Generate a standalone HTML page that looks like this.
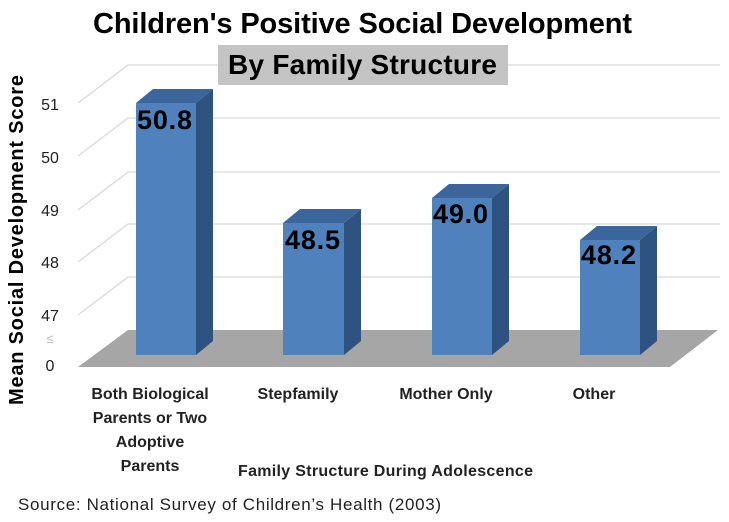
<!DOCTYPE html>
<html><head><style>
body{margin:0;background:#fff;}
svg text{font-family:"Liberation Sans",sans-serif;}
</style></head><body>
<svg width="729" height="517" viewBox="0 0 729 517" xmlns="http://www.w3.org/2000/svg">
<rect width="729" height="517" fill="#fff"/>
<g stroke="#d9d9d9" stroke-width="1.3" fill="none">
<polyline points="78,103 128,65 720,65"/>
<polyline points="78,156 128,118 720,118"/>
<polyline points="78,210 128,172 720,172"/>
<polyline points="78,262 128,224 720,224"/>
<polyline points="78,315 128,277 720,277"/>
</g>
<polygon points="128,330 718,330 670,367 78,367" fill="#a6a6a6"/>
<g font-size="16" fill="#222" text-anchor="middle">
<text x="50" y="110">51</text><text x="50" y="163">50</text><text x="50" y="216">49</text><text x="50" y="268">48</text><text x="50" y="321">47</text><text x="50" y="371">0</text>
</g>
<text x="50" y="343" font-size="13" fill="#bbb" text-anchor="middle">≤</text>
<g>
<polygon points="136,103 153,89 213,89 196,103" fill="#3c669b"/><polygon points="196,103 213,89 213,341 196,355" fill="#2f5380"/><rect x="136" y="103" width="60" height="252" fill="#4f81bd"/>
<polygon points="283,223 300,209 361,209 344,223" fill="#3c669b"/><polygon points="344,223 361,209 361,341 344,355" fill="#2f5380"/><rect x="283" y="223" width="61" height="132" fill="#4f81bd"/>
<polygon points="432,198 449,184 509,184 492,198" fill="#3c669b"/><polygon points="492,198 509,184 509,341 492,355" fill="#2f5380"/><rect x="432" y="198" width="60" height="157" fill="#4f81bd"/>
<polygon points="580,240 597,226 657,226 640,240" fill="#3c669b"/><polygon points="640,240 657,226 657,341 640,355" fill="#2f5380"/><rect x="580" y="240" width="60" height="115" fill="#4f81bd"/>
</g>
<g font-size="27" font-weight="bold" fill="#000">
<text x="137" y="129" textLength="55">50.8</text><text x="285" y="249" textLength="55">48.5</text><text x="433" y="223" textLength="55">49.0</text><text x="581" y="264" textLength="55">48.2</text>
</g>
<text x="93" y="33" font-size="29" font-weight="bold" fill="#000" textLength="539">Children's Positive Social Development</text>
<rect x="218" y="45" width="290" height="40" fill="#c4c4c4"/>
<text x="228" y="74" font-size="28" font-weight="bold" fill="#000" textLength="269">By Family Structure</text>
<text transform="translate(23,405) rotate(-90)" font-size="20" font-weight="bold" fill="#000" textLength="330">Mean Social Development Score</text>
<g font-size="16" font-weight="bold" fill="#222" text-anchor="middle">
<text x="150" y="399">Both Biological</text><text x="150" y="423">Parents or Two</text><text x="150" y="447">Adoptive</text><text x="150" y="471">Parents</text>
<text x="298" y="399">Stepfamily</text><text x="446" y="399">Mother Only</text><text x="594" y="399">Other</text>
</g>
<text x="238" y="476" font-size="16" font-weight="bold" fill="#222" textLength="295">Family Structure During Adolescence</text>
<text x="18" y="510" font-size="17" fill="#222" textLength="423">Source:  National Survey of Children’s Health (2003)</text>
</svg>
</body></html>
